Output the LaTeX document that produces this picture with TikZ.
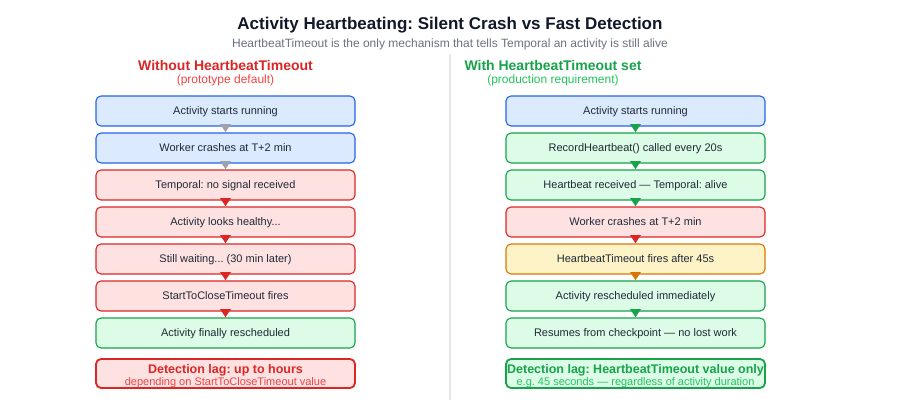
\documentclass[tikz,border=0pt]{standalone}
\usepackage{fontspec}
\setmainfont{Liberation Sans}
\usetikzlibrary{calc}
\frenchspacing
\definecolor{titlec}{HTML}{111827}
\definecolor{subc}{HTML}{6B7280}
\definecolor{textc}{HTML}{1F2937}
\definecolor{bluef}{HTML}{DBEAFE}
\definecolor{blues}{HTML}{2563EB}
\definecolor{redf}{HTML}{FEE2E2}
\definecolor{reds}{HTML}{DC2626}
\definecolor{redl}{HTML}{EF4444}
\definecolor{greenf}{HTML}{DCFCE7}
\definecolor{greens}{HTML}{16A34A}
\definecolor{greenl}{HTML}{22C55E}
\definecolor{yellf}{HTML}{FEF3C7}
\definecolor{yells}{HTML}{D97706}
\definecolor{grayt}{HTML}{9CA3AF}
\definecolor{divc}{HTML}{E5E7EB}
\newcommand{\flowtri}[3]{\fill[#1] ($(#2.south)+(-5.5,-2.5)$) -- ($(#2.south)+(5.5,-2.5)$) -- ($(#3.north)+(0,-0.3)$) -- cycle;}
\begin{document}
\begin{tikzpicture}[x=1pt,y=-1pt,
  box/.style={draw, rounded corners=5pt, line width=1.1pt, minimum width=259pt, minimum height=30pt,
    inner sep=0pt, text=textc, font=\fontsize{11}{13}\selectfont, text height=7.9pt, text depth=0pt},
  bluebox/.style={box, fill=bluef, draw=blues},
  redbox/.style={box, fill=redf, draw=reds},
  greenbox/.style={box, fill=greenf, draw=greens},
  yellbox/.style={box, fill=yellf, draw=yells},
  sumbox/.style={draw, rounded corners=5pt, line width=1.8pt, minimum width=259pt, minimum height=29pt, inner sep=0pt},
  sumhead/.style={anchor=base, inner sep=0pt, font=\fontsize{12.5}{15}\selectfont\bfseries},
  sumsub/.style={anchor=base, inner sep=0pt, font=\fontsize{11}{13}\selectfont},
  colhead/.style={anchor=base, inner sep=0pt, font=\fontsize{14}{16}\selectfont\bfseries},
  colsub/.style={anchor=base, inner sep=0pt, font=\fontsize{12}{14}\selectfont}]
\useasboundingbox[fill=white] (0,0) rectangle (900,410);

% titles
\node[anchor=base, inner sep=0pt, text=titlec, font=\fontsize{17}{20}\selectfont\bfseries] (title) at (450,29) {Activity Heartbeating: Silent Crash vs Fast Detection};
\node[anchor=base, inner sep=0pt, text=subc, font=\fontsize{12}{14}\selectfont] (subtitle) at (450,47) {HeartbeatTimeout is the only mechanism that tells Temporal an activity is still alive};

% divider
\coordinate (dtop) at (450,54);
\coordinate (dbot) at (450,400);
\draw[divc, line width=1.2pt] (dtop) -- (dbot);

% column headings
\node[colhead, text=reds] (lh) at (225.5,70) {Without HeartbeatTimeout};
\node[colsub, text=redl] (lhs) at (225.5,83.5) {(prototype default)};
\node[colhead, text=greens] (rh) at (553,70) {With HeartbeatTimeout set};
\node[colsub, text=greenl] (rhs) at (553,83.5) {(production requirement)};

% left column
\node[bluebox] (l1) at (225.5,111) {Activity starts running};
\node[bluebox] (l2) at (225.5,148) {Worker crashes at T+2 min};
\node[redbox] (l3) at (225.5,185) {Temporal: no signal received};
\node[redbox] (l4) at (225.5,222) {Activity looks healthy...};
\node[redbox] (l5) at (225.5,259) {Still waiting... (30 min later)};
\node[redbox] (l6) at (225.5,296) {StartToCloseTimeout fires};
\node[greenbox] (l7) at (225.5,333) {Activity finally rescheduled};

\flowtri{grayt}{l1}{l2}
\flowtri{grayt}{l2}{l3}
\flowtri{reds}{l3}{l4}
\flowtri{reds}{l4}{l5}
\flowtri{reds}{l5}{l6}
\flowtri{reds}{l6}{l7}

% right column
\node[bluebox] (r1) at (635.5,111) {Activity starts running};
\node[greenbox] (r2) at (635.5,148) {RecordHeartbeat() called every 20s};
\node[greenbox] (r3) at (635.5,185) {Heartbeat received — Temporal: alive};
\node[redbox] (r4) at (635.5,222) {Worker crashes at T+2 min};
\node[yellbox] (r5) at (635.5,259) {HeartbeatTimeout fires after 45s};
\node[greenbox] (r6) at (635.5,296) {Activity rescheduled immediately};
\node[greenbox] (r7) at (635.5,333) {Resumes from checkpoint — no lost work};

\flowtri{greens}{r1}{r2}
\flowtri{greens}{r2}{r3}
\flowtri{greens}{r3}{r4}
\flowtri{reds}{r4}{r5}
\flowtri{yells}{r5}{r6}
\flowtri{greens}{r6}{r7}

% summaries
\node[sumbox, fill=redf, draw=reds] (ls) at (225.5,373.5) {};
\node[sumhead, text=reds] (lsh) at ($(ls.north)+(0,15.5)$) {Detection lag: up to hours};
\node[sumsub, text=redl] (lss) at ($(ls.north)+(0,27)$) {depending on StartToCloseTimeout value};

\node[sumbox, fill=greenf, draw=greens] (rs) at (635.5,373.5) {};
\node[sumhead, text=greens] (rsh) at ($(rs.north)+(0,15.5)$) {Detection lag: HeartbeatTimeout value only};
\node[sumsub, text=greenl] (rss) at ($(rs.north)+(0,27)$) {e.g. 45 seconds — regardless of activity duration};
\end{tikzpicture}
\end{document}
